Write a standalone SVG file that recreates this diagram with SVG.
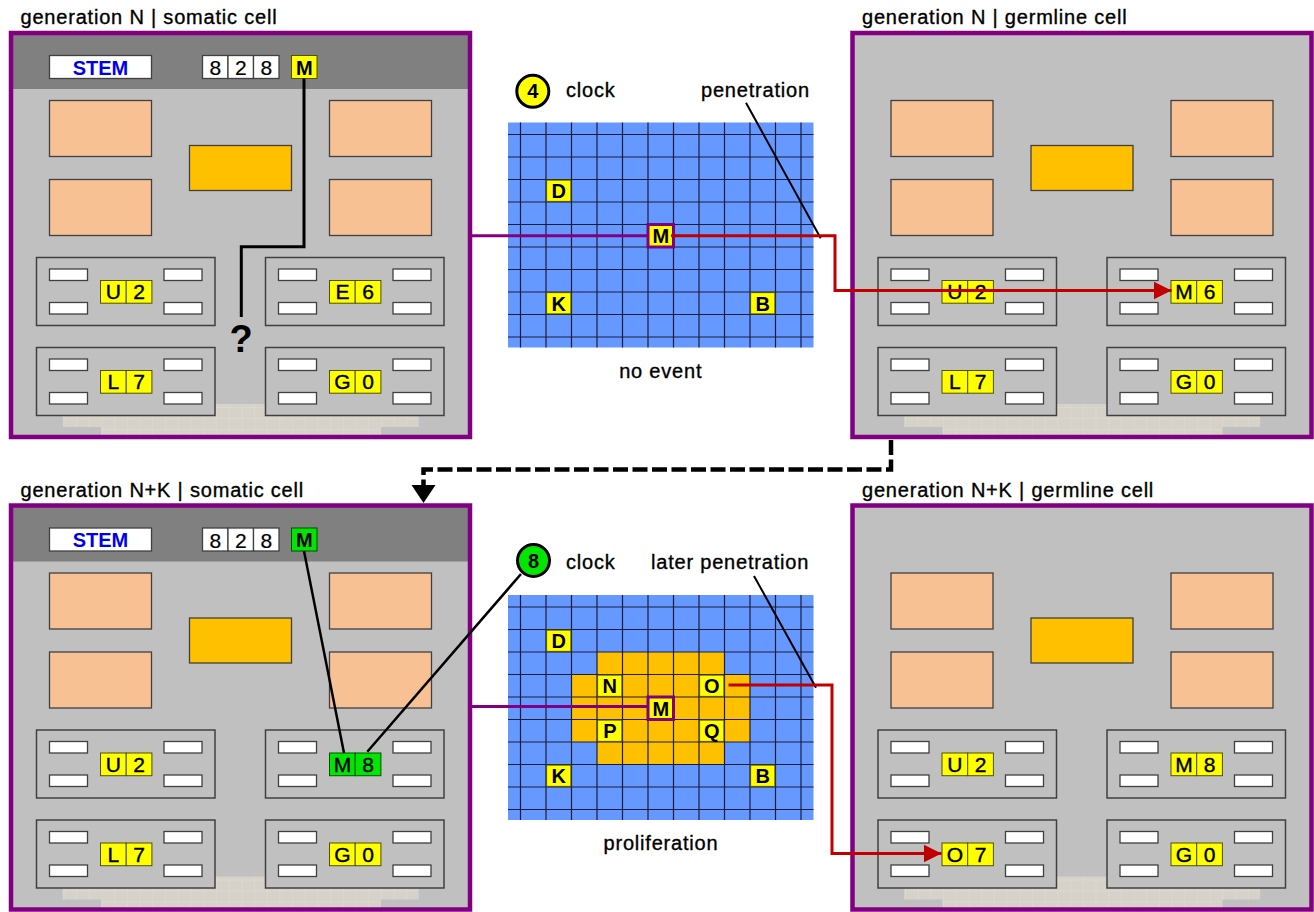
<svg xmlns="http://www.w3.org/2000/svg" width="1314" height="912" viewBox="0 0 1314 912">
<style>
.title{font-family:"Liberation Sans",Arial,sans-serif;font-size:20px;letter-spacing:0.8px;fill:#000;stroke:#000;stroke-width:0.35}
.lbl{font-family:"Liberation Sans",Arial,sans-serif;font-size:20px;letter-spacing:0.8px;fill:#000;stroke:#000;stroke-width:0.35}
.cell{fill:#c0c0c0}
.border{fill:none;stroke:#800080;stroke-width:4.5}
.hdr{fill:#808080}
.peach{fill:#f8c193;stroke:#404040;stroke-width:1.3}
.orng{fill:#ffc000;stroke:#404040;stroke-width:1.3}
.sub{fill:#c0c0c0;stroke:#404040;stroke-width:1.5}
.wh{fill:#fff;stroke:#404040;stroke-width:1.3}
.yl{fill:#ffff00;stroke:#505000;stroke-width:1}
.gr{fill:#00e600;stroke:#005000;stroke-width:1}
.pt{font-family:"Liberation Sans",Arial,sans-serif;font-size:21px;fill:#000;stroke:#000;stroke-width:0.4;text-anchor:middle}
.dg{font-family:"Liberation Sans",Arial,sans-serif;font-size:21px;fill:#000;stroke:#000;stroke-width:0.2;text-anchor:middle}
.gl{font-family:"Liberation Sans",Arial,sans-serif;font-size:20px;font-weight:bold;fill:#000;text-anchor:middle}
.floor{fill:url(#floorPat)}
.gline{fill:none;stroke:#1c1c3c;stroke-width:1.2}
</style>
<defs>
<pattern id="floorPat" patternUnits="userSpaceOnUse" x="0" y="0" width="12.7" height="11">
<rect width="12.7" height="11" fill="#d6d2ca"/>
<path d="M0 0.5H12.7M0.5 0V11" stroke="#dcd8d0" stroke-width="1"/>
</pattern>
<marker id="redArrow" markerUnits="userSpaceOnUse" markerWidth="20" markerHeight="20" refX="18" refY="9" orient="auto">
<path d="M0 0L18 9L0 18Z" fill="#c00000"/>
</marker>
<g id="cellBody">
<rect class="cell" x="11" y="33" width="459" height="404"/>
<path class="floor" d="M62.7 404H418.7V427H381V436H101V427H62.7Z"/>
<rect class="peach" x="49.5" y="100.5" width="102" height="56"/>
<rect class="peach" x="49.5" y="179.5" width="102" height="56"/>
<rect class="peach" x="329.5" y="100.5" width="102" height="56"/>
<rect class="peach" x="329.5" y="179.5" width="102" height="56"/>
<rect class="orng" x="189.5" y="145.5" width="102" height="45"/>
<rect class="sub" x="36.5" y="257.5" width="178.5" height="68"/>
<rect class="sub" x="265.5" y="257.5" width="178.5" height="68"/>
<rect class="sub" x="36.5" y="347.5" width="178.5" height="68"/>
<rect class="sub" x="265.5" y="347.5" width="178.5" height="68"/>
<rect class="wh" x="49.5" y="269" width="38" height="11.5"/>
<rect class="wh" x="49.5" y="302.5" width="38" height="11.5"/>
<rect class="wh" x="164" y="269" width="38" height="11.5"/>
<rect class="wh" x="164" y="302.5" width="38" height="11.5"/>
<rect class="wh" x="278.5" y="269" width="38" height="11.5"/>
<rect class="wh" x="278.5" y="302.5" width="38" height="11.5"/>
<rect class="wh" x="393" y="269" width="38" height="11.5"/>
<rect class="wh" x="393" y="302.5" width="38" height="11.5"/>
<rect class="wh" x="49.5" y="359" width="38" height="11.5"/>
<rect class="wh" x="49.5" y="392.5" width="38" height="11.5"/>
<rect class="wh" x="164" y="359" width="38" height="11.5"/>
<rect class="wh" x="164" y="392.5" width="38" height="11.5"/>
<rect class="wh" x="278.5" y="359" width="38" height="11.5"/>
<rect class="wh" x="278.5" y="392.5" width="38" height="11.5"/>
<rect class="wh" x="393" y="359" width="38" height="11.5"/>
<rect class="wh" x="393" y="392.5" width="38" height="11.5"/>
</g>
<g id="somHeader">
<rect class="hdr" x="11" y="33" width="459" height="56"/>
<rect class="wh" x="49.5" y="55.5" width="102" height="23"/>
<text x="100.5" y="74.5" text-anchor="middle" font-family="Liberation Sans,Arial,sans-serif" font-size="20" font-weight="bold" fill="#0000ee">STEM</text>
<rect class="wh" x="202.5" y="55.5" width="25.5" height="23"/>
<rect class="wh" x="228" y="55.5" width="25.5" height="23"/>
<rect class="wh" x="253.5" y="55.5" width="25.5" height="23"/>
<text class="dg" x="215.3" y="75">8</text>
<text class="dg" x="240.8" y="75">2</text>
<text class="dg" x="266.3" y="75">8</text>
</g>
<path id="gridLines" class="gline" d="M520.5 122.5V347.5M546 122.5V347.5M571.5 122.5V347.5M597 122.5V347.5M622.5 122.5V347.5M648 122.5V347.5M673.5 122.5V347.5M699 122.5V347.5M724.5 122.5V347.5M750 122.5V347.5M775.5 122.5V347.5M801 122.5V347.5M508 134.5H813.5M508 157H813.5M508 179.5H813.5M508 202H813.5M508 224.5H813.5M508 247H813.5M508 269.5H813.5M508 292H813.5M508 314.5H813.5M508 337H813.5"/>
</defs>

<!-- titles -->
<text class="title" x="20.5" y="24">generation N | somatic cell</text>
<text class="title" x="862" y="24">generation N | germline cell</text>
<text class="title" x="20.5" y="496.5">generation N+K | somatic cell</text>
<text class="title" x="862" y="496.5">generation N+K | germline cell</text>

<!-- top somatic cell -->
<g id="cell-top-somatic">
<use href="#cellBody"/>
<use href="#somHeader"/>
<rect class="yl" x="291.5" y="55.5" width="25.5" height="23"/>
<text class="gl" x="304.3" y="74.5">M</text>
<rect class="yl" x="100.5" y="280.5" width="25.7" height="22.7"/><rect class="yl" x="126.2" y="280.5" width="25.7" height="22.7"/>
<text class="pt" x="113.4" y="299.3">U</text><text class="pt" x="139" y="299.3">2</text>
<rect class="yl" x="329.5" y="280.5" width="25.7" height="22.7"/><rect class="yl" x="355.2" y="280.5" width="25.7" height="22.7"/>
<text class="pt" x="342.4" y="299.3">E</text><text class="pt" x="368" y="299.3">6</text>
<rect class="yl" x="100.5" y="370.5" width="25.7" height="22.7"/><rect class="yl" x="126.2" y="370.5" width="25.7" height="22.7"/>
<text class="pt" x="113.4" y="389.3">L</text><text class="pt" x="139" y="389.3">7</text>
<rect class="yl" x="329.5" y="370.5" width="25.7" height="22.7"/><rect class="yl" x="355.2" y="370.5" width="25.7" height="22.7"/>
<text class="pt" x="342.4" y="389.3">G</text><text class="pt" x="368" y="389.3">0</text>
<rect class="border" x="11" y="33" width="459" height="404"/>
</g>

<!-- top germline cell -->
<g id="cell-top-germline" transform="translate(841.5,0)">
<use href="#cellBody"/>
<rect class="yl" x="100.5" y="280.5" width="25.7" height="22.7"/><rect class="yl" x="126.2" y="280.5" width="25.7" height="22.7"/>
<text class="pt" x="113.4" y="299.3">U</text><text class="pt" x="139" y="299.3">2</text>
<rect class="yl" x="329.5" y="280.5" width="25.7" height="22.7"/><rect class="yl" x="355.2" y="280.5" width="25.7" height="22.7"/>
<text class="pt" x="342.4" y="299.3">M</text><text class="pt" x="368" y="299.3">6</text>
<rect class="yl" x="100.5" y="370.5" width="25.7" height="22.7"/><rect class="yl" x="126.2" y="370.5" width="25.7" height="22.7"/>
<text class="pt" x="113.4" y="389.3">L</text><text class="pt" x="139" y="389.3">7</text>
<rect class="yl" x="329.5" y="370.5" width="25.7" height="22.7"/><rect class="yl" x="355.2" y="370.5" width="25.7" height="22.7"/>
<text class="pt" x="342.4" y="389.3">G</text><text class="pt" x="368" y="389.3">0</text>
<rect class="border" x="11" y="33" width="459" height="404"/>
</g>

<!-- bottom somatic cell -->
<g id="cell-bottom-somatic" transform="translate(0,472.5)">
<use href="#cellBody"/>
<use href="#somHeader"/>
<rect class="gr" x="291.5" y="55.5" width="25.5" height="23"/>
<text class="gl" x="304.3" y="74.5">M</text>
<rect class="yl" x="100.5" y="280.5" width="25.7" height="22.7"/><rect class="yl" x="126.2" y="280.5" width="25.7" height="22.7"/>
<text class="pt" x="113.4" y="299.3">U</text><text class="pt" x="139" y="299.3">2</text>
<rect class="gr" x="329.5" y="280.5" width="25.7" height="22.7"/><rect class="gr" x="355.2" y="280.5" width="25.7" height="22.7"/>
<text class="pt" x="342.4" y="299.3">M</text><text class="pt" x="368" y="299.3">8</text>
<rect class="yl" x="100.5" y="370.5" width="25.7" height="22.7"/><rect class="yl" x="126.2" y="370.5" width="25.7" height="22.7"/>
<text class="pt" x="113.4" y="389.3">L</text><text class="pt" x="139" y="389.3">7</text>
<rect class="yl" x="329.5" y="370.5" width="25.7" height="22.7"/><rect class="yl" x="355.2" y="370.5" width="25.7" height="22.7"/>
<text class="pt" x="342.4" y="389.3">G</text><text class="pt" x="368" y="389.3">0</text>
<rect class="border" x="11" y="33" width="459" height="404"/>
</g>

<!-- bottom germline cell -->
<g id="cell-bottom-germline" transform="translate(841.5,472.5)">
<use href="#cellBody"/>
<rect class="yl" x="100.5" y="280.5" width="25.7" height="22.7"/><rect class="yl" x="126.2" y="280.5" width="25.7" height="22.7"/>
<text class="pt" x="113.4" y="299.3">U</text><text class="pt" x="139" y="299.3">2</text>
<rect class="yl" x="329.5" y="280.5" width="25.7" height="22.7"/><rect class="yl" x="355.2" y="280.5" width="25.7" height="22.7"/>
<text class="pt" x="342.4" y="299.3">M</text><text class="pt" x="368" y="299.3">8</text>
<rect class="yl" x="100.5" y="370.5" width="25.7" height="22.7"/><rect class="yl" x="126.2" y="370.5" width="25.7" height="22.7"/>
<text class="pt" x="113.4" y="389.3">O</text><text class="pt" x="139" y="389.3">7</text>
<rect class="yl" x="329.5" y="370.5" width="25.7" height="22.7"/><rect class="yl" x="355.2" y="370.5" width="25.7" height="22.7"/>
<text class="pt" x="342.4" y="389.3">G</text><text class="pt" x="368" y="389.3">0</text>
<rect class="border" x="11" y="33" width="459" height="404"/>
</g>

<!-- top grid -->
<g id="grid-top">
<rect x="508" y="122.5" width="305.5" height="225" fill="#6699ff"/>
<use href="#gridLines"/>
<rect class="yl" x="546.6" y="180.1" width="24.3" height="21.3" stroke="none"/>
<rect class="yl" x="546.6" y="292.6" width="24.3" height="21.3" stroke="none"/>
<rect class="yl" x="750.6" y="292.6" width="24.3" height="21.3" stroke="none"/>
<text class="gl" x="558.8" y="198.3">D</text>
<text class="gl" x="558.8" y="310.8">K</text>
<text class="gl" x="762.8" y="310.8">B</text>
</g>

<!-- bottom grid -->
<g id="grid-bottom">
<rect x="508" y="595" width="305.5" height="225" fill="#6699ff"/>
<path d="M597 652H724.5V674.5H750V742H724.5V764.5H597V742H571.5V674.5H597Z" fill="#ffc000"/>
<use href="#gridLines" transform="translate(0,472.5)"/>
<rect class="yl" x="546.6" y="630.1" width="24.3" height="21.3" stroke="none"/>
<rect class="yl" x="597.6" y="675.1" width="24.3" height="21.3" stroke="none"/>
<rect class="yl" x="699.6" y="675.1" width="24.3" height="21.3" stroke="none"/>
<rect class="yl" x="597.6" y="720.1" width="24.3" height="21.3" stroke="none"/>
<rect class="yl" x="699.6" y="720.1" width="24.3" height="21.3" stroke="none"/>
<rect class="yl" x="546.6" y="765.1" width="24.3" height="21.3" stroke="none"/>
<rect class="yl" x="750.6" y="765.1" width="24.3" height="21.3" stroke="none"/>
<text class="gl" x="558.8" y="648.3">D</text>
<text class="gl" x="609.8" y="693.3">N</text>
<text class="gl" x="711.8" y="693.3">O</text>
<text class="gl" x="609.8" y="738.3">P</text>
<text class="gl" x="711.8" y="738.3">Q</text>
<text class="gl" x="558.8" y="783.3">K</text>
<text class="gl" x="762.8" y="783.3">B</text>
</g>

<!-- labels and clocks -->
<g id="clock-top">
<circle cx="532.8" cy="91.3" r="16" fill="#ffff00" stroke="#000" stroke-width="3"/>
<text class="gl" x="532.8" y="98.3">4</text>
<text class="lbl" x="566" y="97">clock</text>
</g>
<g id="clock-bottom">
<circle cx="533.5" cy="560.5" r="16" fill="#00e600" stroke="#000" stroke-width="3"/>
<text class="gl" x="533.5" y="567.5">8</text>
<text class="lbl" x="566" y="569">clock</text>
</g>
<text class="lbl" x="701" y="97">penetration</text>
<text class="lbl" x="651" y="568.5">later penetration</text>
<text class="lbl" x="660.7" y="378" text-anchor="middle">no event</text>
<text class="lbl" x="661" y="850" text-anchor="middle">proliferation</text>

<!-- connectors -->
<g id="connectors" fill="none">
<path d="M304 78.5V246.7H241.3V317" stroke="#000" stroke-width="3"/>
<path d="M746 102.7L820.7 238.3" stroke="#000" stroke-width="2"/>
<path d="M754 576L816 687.7" stroke="#000" stroke-width="2"/>
<path d="M304 551L344 753" stroke="#000" stroke-width="2.5"/>
<path d="M521 574L367.3 751.7" stroke="#000" stroke-width="2.5"/>
<path d="M470 235.7H648" stroke="#800080" stroke-width="3"/>
<path d="M470 706.5H648" stroke="#800080" stroke-width="3"/>
<path d="M671 235.7H835V290.5H1171.5" stroke="#c00000" stroke-width="3" marker-end="url(#redArrow)"/>
<path d="M728.5 685H832V853.5H941.5" stroke="#c00000" stroke-width="3" marker-end="url(#redArrow)"/>
<path d="M891 440V469.5H423.5V486" stroke="#000" stroke-width="4.5" stroke-dasharray="15 4.5"/>
<path d="M411.5 485H435.5L423.5 503Z" fill="#000"/>
</g>

<!-- M boxes on grid (purple framed) -->
<g id="grid-M-top">
<rect x="648" y="224.5" width="25.5" height="22.5" fill="#ffff00" stroke="#800080" stroke-width="3"/>
<text class="gl" x="660.8" y="243.3">M</text>
</g>
<g id="grid-M-bottom">
<rect x="648" y="697" width="25.5" height="22.5" fill="#ffff00" stroke="#800080" stroke-width="3"/>
<text class="gl" x="660.8" y="715.8">M</text>
</g>
<path d="M671 235.7H676" stroke="#c00000" stroke-width="3"/>

<text x="241" y="351.5" text-anchor="middle" font-family="Liberation Sans,Arial,sans-serif" font-size="38" font-weight="bold" fill="#000">?</text>
</svg>
